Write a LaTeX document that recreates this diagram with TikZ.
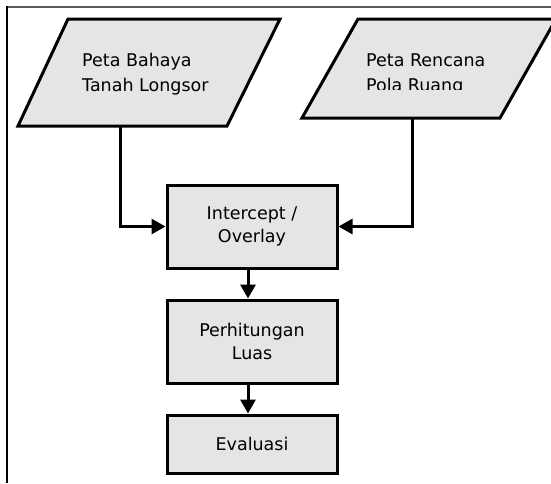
\documentclass[tikz,border=0pt]{standalone}
\usepackage{fontspec}
\setmainfont{DejaVu Sans}
\usetikzlibrary{arrows.meta,positioning}

\begin{document}
\begin{tikzpicture}[x=1pt,y=-1pt,line join=miter,
para/.style={draw=black,line width=3pt,fill=black!10},
txt/.style={inner sep=0pt,align=left,anchor=west,font=\fontsize{17.5}{25}\selectfont},
box/.style={rectangle,draw=black,line width=3pt,fill=black!10,inner sep=0pt,align=center,minimum width=170pt,font=\fontsize{17.5}{23}\selectfont},
arrow/.style={-{Triangle[length=14pt,width=15pt]},line width=3pt}]
\useasboundingbox (0,0) rectangle (551,483);
% frame
\draw[line width=2pt,black!65] (7,6.5) -- (551,6.5);
\draw[line width=1.5pt] (7,6) -- (7,483);
% inputs
\draw[para] (68,19) -- (280,19) -- (227,126) -- (18,126) -- cycle;
\node[txt] (bahaya) at (82,74) {Peta Bahaya\\Tanah Longsor};
\coordinate (bahayaout) at (120,126);
\draw[para] (358,19) -- (556,19) -- (500,118) -- (302,118) -- cycle;
\begin{scope}
\clip (300,20) rectangle (551,89);
\node[txt] (rencana) at (366,74) {Peta Rencana\\Pola Ruang};
\end{scope}
\coordinate (rencanaout) at (412,118);
% process
\node[box,minimum height=83pt] (intercept) at (252,226.5) {Intercept /\\Overlay};
\node[box,minimum height=83pt,below=29pt of intercept] (luas) {Perhitungan\\Luas};
\node[box,minimum height=58pt,below=29pt of luas] (evaluasi) {Evaluasi};
\draw[arrow] (bahayaout) |- (intercept.west);
\draw[arrow] (rencanaout) |- (intercept.east);
\draw[arrow] ([xshift=-4pt]intercept.south) -- ([xshift=-4pt]luas.north);
\draw[arrow] ([xshift=-4pt]luas.south) -- ([xshift=-4pt]evaluasi.north);
\end{tikzpicture}
\end{document}
